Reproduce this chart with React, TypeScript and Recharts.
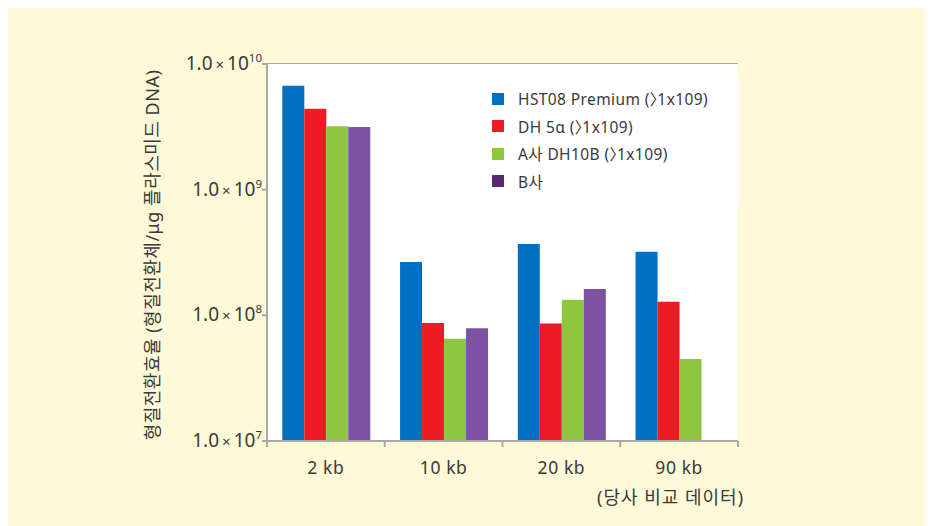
import { Bar, BarChart, CartesianGrid, XAxis, YAxis } from "recharts";

const FONT = "'Noto Sans', 'Noto Sans CJK KR', sans-serif";
const TEXT = "#3a3a3a";
const GRID = "#a8a8a8";

const categories = ["2 kb", "10 kb", "20 kb", "90 kb"];
const hst08 = [6.7e9, 2.66e8, 3.7e8, 3.2e8];
const dh5a = [4.4e9, 8.7e7, 8.6e7, 1.28e8];
const aDh10b = [3.2e9, 6.5e7, 1.33e8, 4.5e7];
const bCo = [3.15e9, 7.9e7, 1.62e8, null];
const yTicks = [1e7, 1e8, 1e9, 1e10];

const series = [
  { key: "hst08", name: "HST08 Premium (〉1x109)", color: "#0070c0", swatch: "#0070c0" },
  { key: "dh5a", name: "DH 5α (〉1x109)", color: "#ed1c24", swatch: "#ed1c24" },
  { key: "aDh10b", name: "A사 DH10B (〉1x109)", color: "#8dc63f", swatch: "#8dc63f" },
  { key: "bCo", name: "B사", color: "#7d52a3", swatch: "#55286f" },
];

const data = categories.map((name, i) => ({
  name,
  hst08: hst08[i],
  dh5a: dh5a[i],
  aDh10b: aDh10b[i],
  bCo: bCo[i],
}));

const WIDTH = 921;
const HEIGHT = 519;
const MARGIN = { top: 57, right: 191, bottom: 45, left: 159 };
const Y_AXIS_W = 100;
const X_AXIS_H = 40;
const PLOT_W = WIDTH - MARGIN.left - MARGIN.right - Y_AXIS_W;
const PLOT_H = HEIGHT - MARGIN.top - MARGIN.bottom - X_AXIS_H;
const BAND = PLOT_W / categories.length;

const YTick = ({ x, y, payload }: any) => {
  const exp = Math.round(Math.log10(payload.value));
  return (
    <text x={x + 2} y={y} dy={6} textAnchor="end" fill={TEXT} fontSize={19} fontFamily={FONT}>
      <tspan>1.0</tspan>
      <tspan dx={3} fontSize={15}>×</tspan>
      <tspan dx={3}>10</tspan>
      <tspan dy={-8} fontSize={11.5}>
        {exp}
      </tspan>
    </text>
  );
};

const XTick = ({ x, y, payload, index }: any) => {
  const axisY = y - 8;
  return (
    <g>
      <line x1={x - BAND / 2} x2={x - BAND / 2} y1={axisY} y2={axisY + 6} stroke={GRID} strokeWidth={2} />
      {index === categories.length - 1 && (
        <line x1={x + BAND / 2} x2={x + BAND / 2} y1={axisY} y2={axisY + 6} stroke={GRID} strokeWidth={2} />
      )}
      <text x={x} y={y} dy={25} textAnchor="middle" fill={TEXT} fontSize={17.5} letterSpacing={0.6} fontFamily={FONT}>
        {payload.value}
      </text>
    </g>
  );
};

// the angle bracket glyph is full width; pull the following text back in
const LegendName = ({ name }: { name: string }) => {
  const parts = name.split("〉");
  if (parts.length < 2) return <span>{name}</span>;
  return (
    <span>
      {parts[0]}
      <span style={{ letterSpacing: -8 }}>〉</span>
      {parts[1]}
    </span>
  );
};

const LegendBox = () => (
  <div
    style={{
      position: "absolute",
      left: 479,
      top: 68,
      background: "#fff",
      width: 252,
      height: 128,
      paddingTop: 10,
      boxSizing: "border-box",
    }}
  >
    {series.map((s) => (
      <div
        key={s.key}
        style={{
          display: "flex",
          alignItems: "center",
          height: 27.5,
          fontFamily: FONT,
          fontSize: 15.5,
          letterSpacing: 0.4,
          color: TEXT,
          whiteSpace: "nowrap",
        }}
      >
        <span style={{ display: "inline-block", width: 12, height: 12, background: s.swatch, marginLeft: 5, marginRight: 14 }} />
        <LegendName name={s.name} />
      </div>
    ))}
  </div>
);

const YLabel = () => (
  <text
    x={144}
    y={248}
    transform="rotate(-90 144 248)"
    textAnchor="middle"
    dominantBaseline="central"
    fill={TEXT}
    fontSize={18}
    letterSpacing={0.5}
    fontFamily={FONT}
  >
    형질전환효율 (형질전환체/μg 플라스미드 DNA)
  </text>
);

export default function App() {
  return (
    <div style={{ position: "relative", width: WIDTH, height: HEIGHT, background: "#fef9d7", marginTop: -1 }}>
      <BarChart
        width={WIDTH}
        height={HEIGHT}
        data={data}
        margin={MARGIN}
        barCategoryGap="13%"
        barGap={0}
        baseValue="dataMin"
      >
        <rect x={MARGIN.left + Y_AXIS_W} y={MARGIN.top} width={PLOT_W} height={PLOT_H} fill="#fff" />
        <CartesianGrid vertical={false} stroke={GRID} strokeWidth={2} />
        <XAxis
          dataKey="name"
          height={X_AXIS_H}
          axisLine={{ stroke: GRID, strokeWidth: 2 }}
          tickLine={false}
          tickSize={6}
          tick={<XTick />}
          interval={0}
        />
        <YAxis
          scale="log"
          domain={[1e7, 1e10]}
          ticks={yTicks}
          allowDataOverflow
          width={Y_AXIS_W}
          axisLine={{ stroke: GRID, strokeWidth: 2 }}
          tickLine={{ stroke: GRID, strokeWidth: 2 }}
          tickSize={5}
          tick={<YTick />}
          interval={0}
        />
        {series.map((s) => (
          <Bar key={s.key} dataKey={s.key} name={s.name} fill={s.color} isAnimationActive={false} />
        ))}
        <YLabel />
      </BarChart>
      <LegendBox />
      <div
        style={{
          position: "absolute",
          left: 589,
          top: 476,
          fontFamily: FONT,
          fontSize: 18,
          letterSpacing: 1,
          color: TEXT,
          whiteSpace: "nowrap",
        }}
      >
        (당사 비교 데이터)
      </div>
    </div>
  );
}
